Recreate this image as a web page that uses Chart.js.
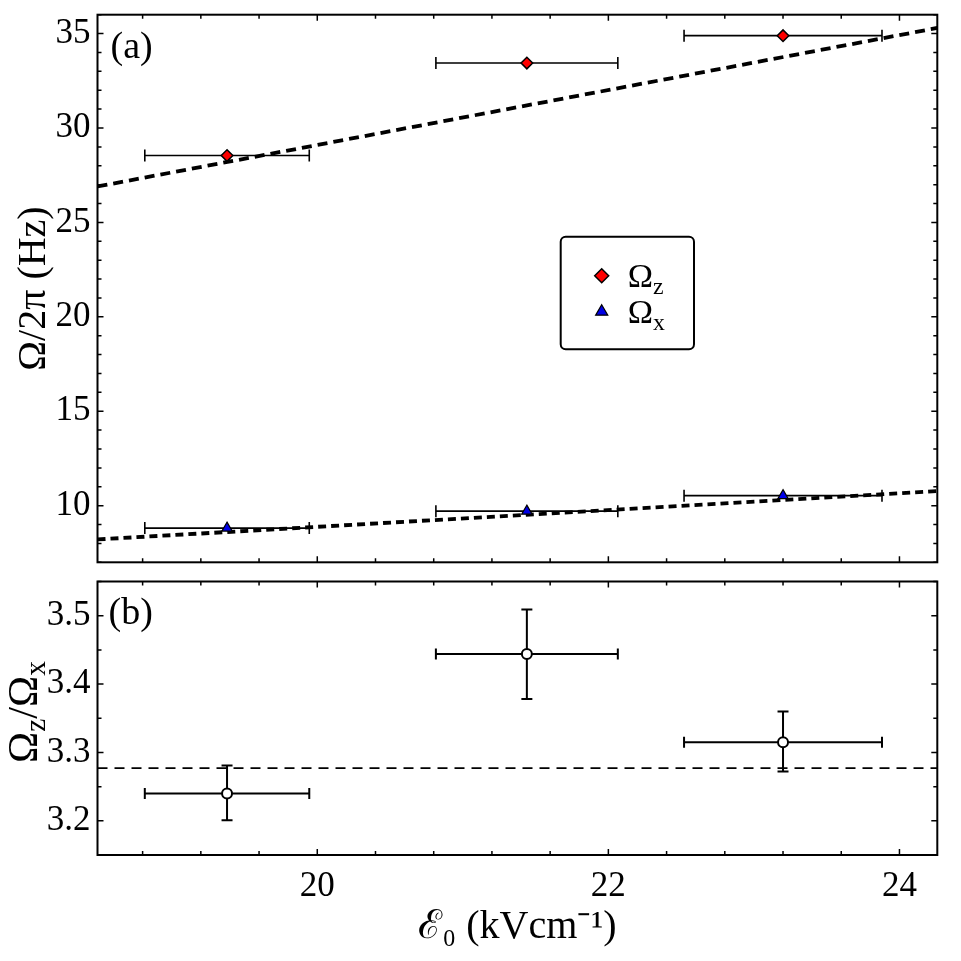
<!DOCTYPE html>
<html><head><meta charset="utf-8">
<script src="https://cdn.jsdelivr.net/npm/chart.js@4.4.1/dist/chart.umd.min.js"></script>
<style>
html,body{margin:0;padding:0;background:#fff;width:961px;height:961px;overflow:hidden}
#cA{position:absolute;left:0;top:0}
#cB{position:absolute;left:0;top:572px}
</style></head><body>
<canvas id="cA" width="961" height="572"></canvas>
<canvas id="cB" width="961" height="389"></canvas>
<script>
// ---- data ----
const fieldE = [19.38, 21.44, 23.20];
const fieldErr = [0.565, 0.625, 0.68];
const omegaZ = [28.54, 33.44, 34.89];
const omegaX = [8.81, 9.71, 10.53];
const ratio = [3.240, 3.444, 3.315];
const ratioErrUp = [0.041, 0.065, 0.045];
const ratioErrDown = [0.039, 0.066, 0.043];
const fitSlopeZ = [1.455];
const fitSlopeX = [0.444];
const ratioFit = [3.277];
const xTicks = [20, 22, 24];
const yTicksTop = [10, 15, 20, 25, 30, 35];
const yTicksBottom = [3.2, 3.3, 3.4, 3.5];
const seriesNames = ['Ωz', 'Ωx'];
const panelLabels = ['(a)', '(b)'];
const xTitle = 'ℰ₀ (kVcm⁻¹)';
const yTitleTop = 'Ω/2π (Hz)';
const yTitleBottom = 'Ωz/Ωx';

// ---- axis ranges ----
const xMin = 18.49, xMax = 24.26;
const FONT = "'Liberation Serif', 'Times New Roman', serif";
const SUB = 0.7;

function richParts(text) {
  const parts = [];
  const re = /Ω([a-z])?|[^Ω]+/g;
  let m;
  while ((m = re.exec(text))) {
    if (m[0][0] === 'Ω') {
      parts.push({t: 'Ω', sub: false});
      if (m[1]) parts.push({t: m[1], sub: true});
    } else parts.push({t: m[0], sub: false});
  }
  return parts;
}
function richWidth(ctx, parts, size) {
  let w = 0;
  for (const p of parts) {
    ctx.font = (p.sub ? size * SUB : size) + 'px ' + FONT;
    w += ctx.measureText(p.t).width;
  }
  return w;
}
function drawRich(ctx, parts, x, y, size) {
  let cx = x;
  ctx.textBaseline = 'alphabetic';
  ctx.textAlign = 'left';
  for (const p of parts) {
    const s = p.sub ? size * SUB : size;
    ctx.font = s + 'px ' + FONT;
    ctx.fillText(p.t, cx, p.sub ? y + size * 0.2 : y);
    cx += ctx.measureText(p.t).width;
  }
}

const errorBars = {
  id: 'errorBars',
  beforeDatasetsDraw(chart, args, opts) {
    const {ctx} = chart;
    const xs = chart.scales.x, ys = chart.scales.y;
    ctx.save();
    ctx.strokeStyle = '#000';
    for (const it of opts.items || []) {
      ctx.lineWidth = it.width;
      for (let i = 0; i < it.xs.length; i++) {
        const px = xs.getPixelForValue(it.xs[i]);
        const py = ys.getPixelForValue(it.ys[i]);
        const h = it.cap / 2;
        if (it.xerr) {
          const l = xs.getPixelForValue(it.xs[i] - it.xerr[i]);
          const r = xs.getPixelForValue(it.xs[i] + it.xerr[i]);
          ctx.beginPath();
          ctx.moveTo(l, py); ctx.lineTo(r, py);
          ctx.moveTo(l, py - h); ctx.lineTo(l, py + h);
          ctx.moveTo(r, py - h); ctx.lineTo(r, py + h);
          ctx.stroke();
        }
        if (it.yUp) {
          const t = ys.getPixelForValue(it.ys[i] + it.yUp[i]);
          const b = ys.getPixelForValue(it.ys[i] - it.yDown[i]);
          ctx.beginPath();
          ctx.moveTo(px, t); ctx.lineTo(px, b);
          ctx.moveTo(px - h, t); ctx.lineTo(px + h, t);
          ctx.moveTo(px - h, b); ctx.lineTo(px + h, b);
          ctx.stroke();
        }
      }
    }
    ctx.restore();
  }
};

const frameTicks = {
  id: 'frameTicks',
  afterDatasetsDraw(chart, args, opts) {
    const {ctx, chartArea: a} = chart;
    const xs = chart.scales.x, ys = chart.scales.y;
    ctx.save();
    ctx.strokeStyle = '#000';
    ctx.lineWidth = 1.5;
    const eachStep = (sc, step, fn) => {
      const k0 = Math.ceil(sc.min / step - 1e-6), k1 = Math.floor(sc.max / step + 1e-6);
      for (let k = k0; k <= k1; k++) fn(k * step);
    };
    const isMajor = (v, arr) => arr.some(m => Math.abs(m - v) < 1e-6);
    eachStep(xs, opts.xMinor, v => {
      const p = xs.getPixelForValue(v);
      const len = isMajor(v, opts.xMajor) ? opts.majorLen : opts.minorLen;
      ctx.beginPath();
      ctx.moveTo(p, a.bottom); ctx.lineTo(p, a.bottom - len);
      ctx.moveTo(p, a.top); ctx.lineTo(p, a.top + len);
      ctx.stroke();
    });
    eachStep(ys, opts.yMinor, v => {
      const p = ys.getPixelForValue(v);
      const len = isMajor(v, opts.yMajor) ? opts.majorLen : opts.minorLen;
      ctx.beginPath();
      ctx.moveTo(a.left, p); ctx.lineTo(a.left + len, p);
      ctx.moveTo(a.right, p); ctx.lineTo(a.right - len, p);
      ctx.stroke();
    });
    ctx.lineWidth = 2;
    ctx.strokeRect(a.left, a.top, a.right - a.left, a.bottom - a.top);
    // panel label
    ctx.fillStyle = '#000';
    ctx.font = opts.labelSize + 'px ' + FONT;
    ctx.textAlign = 'left';
    ctx.textBaseline = 'middle';
    ctx.fillText(opts.label, a.left + opts.labelDx, a.top + opts.labelDy);
    ctx.restore();
  }
};

const boxLegend = {
  id: 'boxLegend',
  afterDatasetsDraw(chart, args, opts) {
    if (!opts.show) return;
    const {ctx} = chart;
    ctx.save();
    ctx.fillStyle = '#fff';
    ctx.strokeStyle = '#000';
    ctx.lineWidth = 2;
    ctx.beginPath();
    ctx.roundRect(opts.left, opts.top, opts.width, opts.height, 5);
    ctx.fill(); ctx.stroke();
    opts.datasets.forEach((di, row) => {
      const ds = chart.data.datasets[di];
      const y = opts.top + opts.row0 + row * opts.rowGap;
      const mx = opts.left + opts.markerDx;
      ctx.fillStyle = ds.backgroundColor;
      ctx.strokeStyle = ds.borderColor;
      ctx.lineWidth = ds.borderWidth;
      Chart.helpers.drawPoint(ctx, {pointStyle: ds.pointStyle, radius: opts.markerRadius, rotation: 0, borderWidth: ds.borderWidth}, mx, y);
      ctx.fillStyle = '#000';
      drawRich(ctx, richParts(ds.label), opts.left + opts.textDx, y + opts.fontSize * 0.33, opts.fontSize);
    });
    ctx.restore();
  }
};

const richYTitle = {
  id: 'richYTitle',
  afterDraw(chart, args, opts) {
    if (!opts.text) return;
    const {ctx} = chart;
    const parts = richParts(opts.text);
    ctx.save();
    ctx.fillStyle = '#000';
    ctx.translate(opts.x, opts.y);
    ctx.rotate(-Math.PI / 2);
    const w = richWidth(ctx, parts, opts.size);
    drawRich(ctx, parts, -w / 2, opts.size * 0.33, opts.size);
    ctx.restore();
  }
};

function yScale(min, max, ticks, title) {
  return {
    type: 'linear', min, max,
    grid: {display: false, drawTicks: false},
    border: {display: false},
    afterBuildTicks: s => { s.ticks = ticks.map(v => ({value: v})); },
    ticks: {font: {family: FONT, size: 35}, color: '#000', padding: 7,
            callback: v => (max < 5 ? v.toFixed(1) : String(v))},
    title: title ? {display: true, text: title, color: '#000', font: {family: FONT, size: 40}, padding: {top: 10, bottom: 0}} : {display: false},
    afterFit: s => { s.width = 97.5; s.paddingTop = 0; s.paddingBottom = 0; }
  };
}

function xScale(show) {
  return {
    type: 'linear', min: xMin, max: xMax, display: show,
    grid: {display: false, drawTicks: false},
    border: {display: false},
    afterBuildTicks: s => { s.ticks = xTicks.map(v => ({value: v})); },
    ticks: {font: {family: FONT, size: 35}, color: '#000', padding: 11, maxRotation: 0, autoSkip: false,
            callback: v => String(v)},
    title: {display: show, text: xTitle, color: '#000', font: {family: FONT, size: 40}, padding: {top: 0, bottom: 10}},
    afterFit: s => { s.height = show ? 106 : 0; s.paddingLeft = 0; s.paddingRight = 0; }
  };
}

const common = {
  responsive: false, animation: false, devicePixelRatio: 1,
};

// ---- top panel ----
new Chart(document.getElementById('cA'), {
  data: {
    datasets: [
      {type: 'scatter', label: seriesNames[0], data: fieldE.map((x, i) => ({x, y: omegaZ[i]})),
       pointStyle: 'rectRot', pointRadius: 5.8, backgroundColor: '#ff0000', borderColor: '#000', borderWidth: 1.5, order: 1},
      {type: 'scatter', label: seriesNames[1], data: fieldE.map((x, i) => ({x, y: omegaX[i]})),
       pointStyle: 'triangle', pointRadius: 6, backgroundColor: '#0000e6', borderColor: '#000', borderWidth: 1.2, order: 1},
      {type: 'line', label: 'fit z', data: [xMin, xMax].map(x => ({x, y: fitSlopeZ[0] * x})),
       borderColor: '#000', borderWidth: 3.8, borderDash: [10, 6], pointRadius: 0, fill: false, order: 2},
      {type: 'line', label: 'fit x', data: [xMin, xMax].map(x => ({x, y: fitSlopeX[0] * x})),
       borderColor: '#000', borderWidth: 3.8, borderDash: [8, 5], pointRadius: 0, fill: false, order: 2}
    ]
  },
  options: {
    ...common,
    layout: {padding: {left: 0, right: 23.7, top: 14.7, bottom: 9.7}},
    scales: {x: xScale(false), y: yScale(7, 36, yTicksTop, yTitleTop)},
    plugins: {
      legend: {display: false}, tooltip: {enabled: false},
      errorBars: {items: [
        {xs: fieldE, ys: omegaZ, xerr: fieldErr, width: 1.6, cap: 12},
        {xs: fieldE, ys: omegaX, xerr: fieldErr, width: 1.6, cap: 12}
      ]},
      frameTicks: {xMinor: 0.4, xMajor: xTicks, yMinor: 1, yMajor: yTicksTop, majorLen: 6, minorLen: 4,
                   label: panelLabels[0], labelSize: 38, labelDx: 13, labelDy: 33},
      boxLegend: {show: true, datasets: [0, 1], left: 560.7, top: 236.7, width: 133.3, height: 112.6,
                  row0: 39, rowGap: 36, markerDx: 41, textDx: 67, fontSize: 34, markerRadius: 7},
      richYTitle: {}
    }
  },
  plugins: [errorBars, frameTicks, boxLegend, richYTitle]
});

// ---- bottom panel ----
new Chart(document.getElementById('cB'), {
  data: {
    datasets: [
      {type: 'scatter', label: 'ratio', data: fieldE.map((x, i) => ({x, y: ratio[i]})),
       pointStyle: 'circle', pointRadius: 5, backgroundColor: '#fff', borderColor: '#000', borderWidth: 2, order: 1},
      {type: 'line', label: 'ratio fit', data: [xMin, xMax].map(x => ({x, y: ratioFit[0]})),
       borderColor: '#000', borderWidth: 1.6, borderDash: [10, 7], pointRadius: 0, fill: false, order: 2}
    ]
  },
  options: {
    ...common,
    layout: {padding: {left: 0, right: 23.7, top: 9.5, bottom: 0}},
    scales: {x: xScale(true), y: yScale(3.15, 3.55, yTicksBottom, null)},
    plugins: {
      legend: {display: false}, tooltip: {enabled: false},
      errorBars: {items: [
        {xs: fieldE, ys: ratio, xerr: fieldErr, yUp: ratioErrUp, yDown: ratioErrDown, width: 2, cap: 11}
      ]},
      frameTicks: {xMinor: 0.4, xMajor: xTicks, yMinor: 0.05, yMajor: yTicksBottom, majorLen: 6, minorLen: 4,
                   label: panelLabels[1], labelSize: 38, labelDx: 11, labelDy: 33},
      boxLegend: {show: false},
      richYTitle: {text: yTitleBottom, x: 23, y: 712 - 572, size: 42}
    }
  },
  plugins: [errorBars, frameTicks, boxLegend, richYTitle]
});
</script>
</body></html>
